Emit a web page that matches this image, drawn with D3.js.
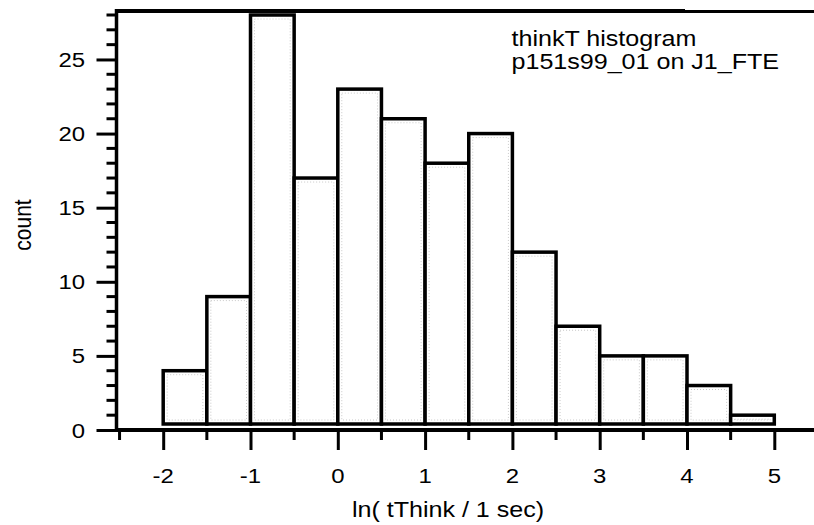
<!DOCTYPE html>
<html>
<head>
<meta charset="utf-8">
<script src="https://cdn.jsdelivr.net/npm/d3@7"></script>
<style>
  html, body { margin: 0; padding: 0; background: #fff; }
  svg { display: block; }
  text { font-family: "Liberation Sans", Arial, Helvetica, sans-serif; fill: #000; }
</style>
</head>
<body>
<script>
// ---- data ----
const binStarts = [-2, -1.5, -1, -0.5, 0, 0.5, 1, 1.5, 2, 2.5, 3, 3.5, 4, 4.5];
const binWidth = 0.5;
const counts = [4, 9, 28, 17, 23, 21, 18, 20, 12, 7, 5, 5, 3, 1];
const xTickLabels = [-2, -1, 0, 1, 2, 3, 4, 5];
const yTickLabels = [0, 5, 10, 15, 20, 25];
const titleLines = ["thinkT histogram", "p151s99_01 on J1_FTE"];
const xTitle = "ln( tThink / 1 sec)";
const yTitle = "count";

// ---- layout ----
const W = 814, H = 525;
const SX = 1.14; // horizontal text stretch of the original
const x = d3.scaleLinear().domain([-2, 5]).range([163.2, 774.3]);
const y = d3.scaleLinear().domain([0, 28]).range([430, 15]);
const axisLeftX = 116.5, topY = 11;

const svg = d3.select("body").append("svg").attr("width", W).attr("height", H);

// bars
const bars = svg.append("g");
binStarts.forEach((b, i) => {
  const x0 = x(b), x1 = x(b + binWidth), yt = y(counts[i]), yb = y(0) - 6;
  bars.append("rect")
    .attr("x", x0).attr("y", yt)
    .attr("width", x1 - x0).attr("height", yb - yt)
    .attr("fill", "#fff").attr("stroke", "#000").attr("stroke-width", 3.5);
  // faint dotted inner outline (scan texture)
  bars.append("rect")
    .attr("x", x0 + 4).attr("y", yt + 4)
    .attr("width", Math.max(0, x1 - x0 - 8)).attr("height", Math.max(0, yb - yt - 8))
    .attr("fill", "none").attr("stroke", "#c8c8c8").attr("stroke-width", 1)
    .attr("stroke-dasharray", "1,2");
});

// frame lines
svg.append("line").attr("x1", axisLeftX).attr("x2", 685).attr("y1", topY).attr("y2", topY)
  .attr("stroke", "#000").attr("stroke-width", 4);
svg.append("line").attr("x1", 685).attr("x2", W).attr("y1", topY + 0.5).attr("y2", topY + 0.5)
  .attr("stroke", "#000").attr("stroke-width", 3);
svg.append("line").attr("x1", axisLeftX).attr("x2", axisLeftX).attr("y1", topY - 2).attr("y2", y(0) + 2)
  .attr("stroke", "#000").attr("stroke-width", 3.5);
svg.append("line").attr("x1", axisLeftX - 1.5).attr("x2", W).attr("y1", y(0)).attr("y2", y(0))
  .attr("stroke", "#000").attr("stroke-width", 4);

// x axis ticks
const xAxis = d3.axisBottom(x).tickValues(xTickLabels).tickSize(20).tickFormat("");
const gx = svg.append("g").attr("transform", `translate(0,${y(0)})`).call(xAxis);
gx.select(".domain").remove();
gx.selectAll(".tick line").attr("stroke", "#000").attr("stroke-width", 3);
const xMinor = [-2.5, -1.5, -0.5, 0.5, 1.5, 2.5, 3.5, 4.5];
svg.append("g").selectAll("line").data(xMinor).join("line")
  .attr("x1", d => x(d)).attr("x2", d => x(d)).attr("y1", y(0)).attr("y2", y(0) + 10)
  .attr("stroke", "#000").attr("stroke-width", 3);
svg.append("g").selectAll("text").data(xTickLabels).join("text")
  .attr("transform", d => `translate(${x(d)},483) scale(${SX},1)`)
  .attr("text-anchor", "middle").attr("font-size", 21)
  .text(d => d);

// y axis ticks
const yAxis = d3.axisLeft(y).tickValues(yTickLabels).tickSize(20).tickFormat("");
const gy = svg.append("g").attr("transform", `translate(${axisLeftX},0)`).call(yAxis);
gy.select(".domain").remove();
gy.selectAll(".tick line").attr("stroke", "#000").attr("stroke-width", 3);
const yMinor = d3.range(1, 29).filter(v => v % 5 !== 0);
svg.append("g").selectAll("line").data(yMinor).join("line")
  .attr("x1", axisLeftX - 10).attr("x2", axisLeftX).attr("y1", d => y(d)).attr("y2", d => y(d))
  .attr("stroke", "#000").attr("stroke-width", 3);
svg.append("g").selectAll("text").data(yTickLabels).join("text")
  .attr("transform", d => `translate(85,${y(d) + 7.5}) scale(${SX},1)`)
  .attr("text-anchor", "end").attr("font-size", 21)
  .text(d => d);

// axis titles
svg.append("text")
  .attr("transform", `translate(448,517) scale(${SX},1)`)
  .attr("text-anchor", "middle").attr("font-size", 22)
  .text(xTitle);
svg.append("text")
  .attr("transform", `translate(31,225) scale(${SX},1) rotate(-90)`)
  .attr("text-anchor", "middle").attr("font-size", 21)
  .text(yTitle);

// annotation
titleLines.forEach((t, i) => {
  svg.append("text")
    .attr("transform", `translate(511.5,${46 + i * 23}) scale(${SX},1)`)
    .attr("font-size", 22)
    .text(t);
});
</script>
</body>
</html>
